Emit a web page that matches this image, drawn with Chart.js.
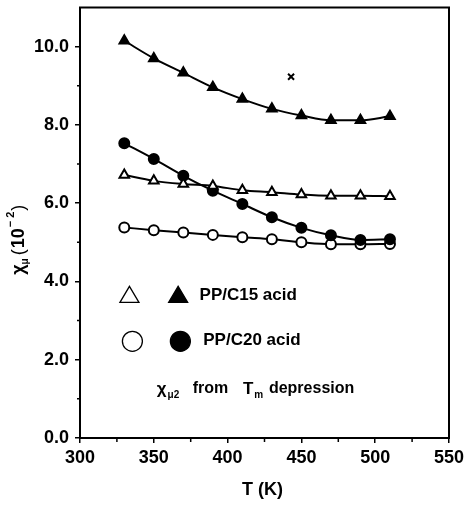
<!DOCTYPE html>
<html>
<head>
<meta charset="utf-8">
<script src="https://cdn.jsdelivr.net/npm/chart.js@4/dist/chart.umd.min.js"></script>
<style>
html,body{margin:0;padding:0;background:#fff;}
#wrap{width:465px;height:505px;position:relative;}
</style>
</head>
<body>
<div id="wrap"><canvas id="c" width="465" height="505"></canvas></div>
<script>
const temps = [330, 350, 370, 390, 410, 430, 450, 470, 490, 510];
const c15Filled = [10.15, 9.70, 9.33, 8.96, 8.66, 8.41, 8.24, 8.12, 8.12, 8.22];
const c15Open = [6.72, 6.57, 6.49, 6.44, 6.33, 6.28, 6.22, 6.19, 6.19, 6.18];
const c20Filled = [7.53, 7.13, 6.70, 6.32, 5.98, 5.64, 5.37, 5.18, 5.06, 5.08];
const c20Open = [5.38, 5.31, 5.25, 5.19, 5.13, 5.08, 5.00, 4.95, 4.95, 4.96];
const crossT = [443];
const crossVal = [9.23];
const xTicks = [300, 350, 400, 450, 500, 550];
const xMinor = [325, 375, 425, 475, 525];
const yTicks = [0, 2, 4, 6, 8, 10];
const yMinor = [1, 3, 5, 7, 9];

const FONT = '"Liberation Sans", Arial, sans-serif';
const pts = (xs, ys) => xs.map((x, i) => ({x: x, y: ys[i]}));

function ds(data, style, filled) {
  return {
    data: data, showLine: true, tension: 0.4, cubicInterpolationMode: 'monotone',
    borderColor: '#000', borderWidth: 2,
    pointStyle: style, pointRadius: style === 'triangle' ? 5.5 : 5,
    pointBorderWidth: 2, pointBorderColor: '#000',
    pointBackgroundColor: filled ? '#000' : '#fff'
  };
}

const framePlugin = {
  id: 'frame',
  afterDraw(chart) {
    const ctx = chart.ctx, a = chart.chartArea;
    const xs = chart.scales.x, ys = chart.scales.y;
    ctx.save();
    ctx.strokeStyle = '#000';
    ctx.lineWidth = 2;
    ctx.strokeRect(a.left, a.top, a.right - a.left, a.bottom - a.top);
    // minor ticks
    ctx.lineWidth = 1.5;
    ctx.beginPath();
    xMinor.forEach(v => { const p = xs.getPixelForValue(v); ctx.moveTo(p, a.bottom); ctx.lineTo(p, a.bottom + 4); });
    yMinor.forEach(v => { const p = ys.getPixelForValue(v); ctx.moveTo(a.left, p); ctx.lineTo(a.left - 3, p); });
    ctx.stroke();

    // cross marker
    const cx = xs.getPixelForValue(crossT[0]), cy = ys.getPixelForValue(crossVal[0]);
    ctx.lineWidth = 2;
    ctx.beginPath();
    ctx.moveTo(cx - 3, cy - 3); ctx.lineTo(cx + 3, cy + 3);
    ctx.moveTo(cx + 3, cy - 3); ctx.lineTo(cx - 3, cy + 3);
    ctx.stroke();

    // legend
    const X = v => xs.getPixelForValue(v), Y = v => ys.getPixelForValue(v);
    function tri(x, y, r, filled) {
      ctx.beginPath();
      ctx.moveTo(x, y - r);
      ctx.lineTo(x + r * 0.95, y + r * 0.6);
      ctx.lineTo(x - r * 0.95, y + r * 0.6);
      ctx.closePath();
      if (filled) { ctx.fillStyle = '#000'; ctx.fill(); }
      ctx.lineWidth = 1.3; ctx.stroke();
    }
    function circ(x, y, r, filled) {
      ctx.beginPath(); ctx.arc(x, y, r, 0, Math.PI * 2);
      if (filled) { ctx.fillStyle = '#000'; ctx.fill(); }
      ctx.lineWidth = 1.3; ctx.stroke();
    }
    tri(X(333.5), Y(3.62), 10, false);
    tri(X(366.5), Y(3.62), 10, true);
    circ(X(335.5), Y(2.47), 10, false);
    circ(X(368), Y(2.47), 10, true);
    ctx.fillStyle = '#000';
    ctx.textBaseline = 'middle';
    ctx.textAlign = 'left';
    ctx.font = 'bold 17px ' + FONT;
    ctx.fillText('PP/C15 acid', X(381), Y(3.65));
    ctx.fillText('PP/C20 acid', X(383.5), Y(2.5));
    // third line
    const y3 = Y(1.25);
    let x = X(352);
    ctx.font = 'bold 17px ' + FONT;
    ctx.fillText('\u03c7', x, y3);
    x += ctx.measureText('\u03c7').width + 1;
    ctx.font = 'bold 10px ' + FONT;
    ctx.fillText('\u03bc2', x, y3 + 6);
    ctx.font = 'bold 16px ' + FONT;
    ctx.fillText('from', X(376.4), y3);
    x = X(410.4);
    ctx.font = 'bold 17px ' + FONT;
    ctx.fillText('T', x, y3);
    x += ctx.measureText('T').width + 1;
    ctx.font = 'bold 10px ' + FONT;
    ctx.fillText('m', x, y3 + 6);
    ctx.font = 'bold 16px ' + FONT;
    ctx.fillText('depression', X(428), y3);

    // y title
    ctx.save();
    ctx.translate(19, (a.top + a.bottom) / 2 + 14);
    ctx.rotate(-Math.PI / 2);
    ctx.textAlign = 'left';
    let tx = -38;
    ctx.font = 'bold 18px ' + FONT;
    ctx.fillText('\u03c7', tx, 0);
    tx += ctx.measureText('\u03c7').width;
    ctx.font = 'bold 10px ' + FONT;
    ctx.fillText('\u03bc', tx, 6);
    tx += ctx.measureText('\u03bc').width + 3;
    ctx.font = '18px ' + FONT;
    ctx.fillText('(', tx, 0);
    tx += ctx.measureText('(').width + 1;
    ctx.font = 'bold 18px ' + FONT;
    ctx.fillText('10', tx, 0);
    tx += ctx.measureText('10').width + 1;
    ctx.font = 'bold 11px ' + FONT;
    ctx.fillText('\u2212 2', tx, -8);
    tx += ctx.measureText('\u2212 2').width + 1;
    ctx.font = '18px ' + FONT;
    ctx.fillText(')', tx, 0);
    ctx.restore();

    // x title
    ctx.textAlign = 'center';
    ctx.font = 'bold 18px ' + FONT;
    ctx.fillText('T (K)', (a.left + a.right) / 2 - 2, 490);
    ctx.restore();
  }
};

new Chart(document.getElementById('c'), {
  type: 'scatter',
  data: {
    datasets: [
      ds(pts(temps, c15Filled), 'triangle', true),
      ds(pts(temps, c15Open), 'triangle', false),
      ds(pts(temps, c20Filled), 'circle', true),
      ds(pts(temps, c20Open), 'circle', false)
    ]
  },
  options: {
    responsive: false, animation: false,
    layout: {padding: {left: 0, top: 0, right: 16, bottom: 0}},
    plugins: {legend: {display: false}, tooltip: {enabled: false}},
    scales: {
      x: {
        type: 'linear', min: 300, max: 550,
        afterFit(s) { s.height = 67; s.paddingRight = 0; s.paddingLeft = 0; },
        afterBuildTicks(s) { s.ticks = xTicks.map(v => ({value: v})); },
        grid: {drawOnChartArea: false, drawTicks: true, tickLength: 5, color: '#000', lineWidth: 1.5},
        border: {display: true, color: '#000', width: 2},
        ticks: {color: '#000', font: {family: FONT, size: 18, weight: 'bold'}, padding: 4, maxRotation: 0,
                callback: v => String(v)}
      },
      y: {
        type: 'linear', min: 0, max: 11,
        afterFit(s) { s.width = 80; s.paddingTop = 7; },
        afterBuildTicks(s) { s.ticks = yTicks.map(v => ({value: v})); },
        grid: {drawOnChartArea: false, drawTicks: true, tickLength: 5, color: '#000', lineWidth: 1.5},
        border: {display: true, color: '#000', width: 2},
        ticks: {color: '#000', font: {family: FONT, size: 18, weight: 'bold'}, padding: 6,
                callback: v => Number(v).toFixed(1)}
      }
    }
  },
  plugins: [framePlugin]
});
</script>
</body>
</html>
